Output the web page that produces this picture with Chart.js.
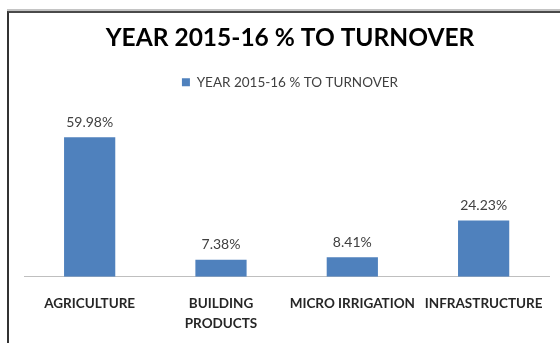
<!DOCTYPE html>
<html>
<head>
<meta charset="utf-8">
<script src="https://cdn.jsdelivr.net/npm/chart.js@4/dist/chart.umd.min.js"></script>
<style>
  html, body { margin: 0; padding: 0; background: #fff; }
  #frame {
    position: absolute; left: 7px; top: 11px; width: 560px; height: 340px;
    border-top: 2px solid #4a4a4a; border-left: 2px solid #333;
    box-shadow: 0 -2px 0 #c4c4c4;
  }
  #wrap { position: absolute; left: 0; top: 0; width: 560px; height: 343px; }
</style>
</head>
<body>
<div id="frame"></div>
<div id="wrap"><canvas id="c" width="560" height="343"></canvas></div>
<script>
const categories = ['AGRICULTURE', ['BUILDING', 'PRODUCTS'], 'MICRO IRRIGATION', 'INFRASTRUCTURE'];
const seriesName = 'YEAR 2015-16 % TO TURNOVER';
const turnoverPct = [59.98, 7.38, 8.41, 24.23];

// 棒の上に値ラベル(xx.xx%)を描く
const valueLabels = {
  id: 'valueLabels',
  afterDatasetsDraw(chart) {
    const ctx = chart.ctx;
    const meta = chart.getDatasetMeta(0);
    ctx.save();
    ctx.font = '14px Lato';
    ctx.fillStyle = '#404040';
    ctx.textAlign = 'center';
    ctx.textBaseline = 'middle';
    meta.data.forEach((bar, i) => {
      ctx.fillText(turnoverPct[i].toFixed(2) + '%', bar.x, bar.y - 15);
    });
    ctx.restore();
  }
};

new Chart(document.getElementById('c'), {
  type: 'bar',
  data: {
    labels: categories,
    datasets: [{
      label: seriesName,
      data: turnoverPct,
      backgroundColor: '#4f81bd',
      barPercentage: 0.39,
      categoryPercentage: 1
    }]
  },
  options: {
    responsive: false,
    animation: false,
    layout: { padding: { left: 24, right: 4, top: 10, bottom: -7 } },
    plugins: {
      title: {
        display: true,
        text: seriesName,
        color: '#000',
        font: { family: 'Lato', size: 24.5, weight: 'bold' },
        padding: { top: 13, bottom: 13 }
      },
      legend: {
        display: true,
        labels: {
          color: '#404040',
          font: { family: 'Lato', size: 13.5 },
          boxWidth: 8, boxHeight: 8, padding: 10
        }
      },
      tooltip: { enabled: false }
    },
    scales: {
      x: {
        grid: { display: false, drawTicks: false },
        border: { display: true, color: '#bfbfbf', width: 1 },
        ticks: {
          color: '#262626',
          font: { family: 'Lato', size: 13.5, weight: 'bold', lineHeight: 1.45 },
          padding: 17,
          maxRotation: 0, autoSkip: false
        }
      },
      y: {
        display: false,
        min: 0, max: 76.4
      }
    }
  },
  plugins: [valueLabels]
});
</script>
</body>
</html>
